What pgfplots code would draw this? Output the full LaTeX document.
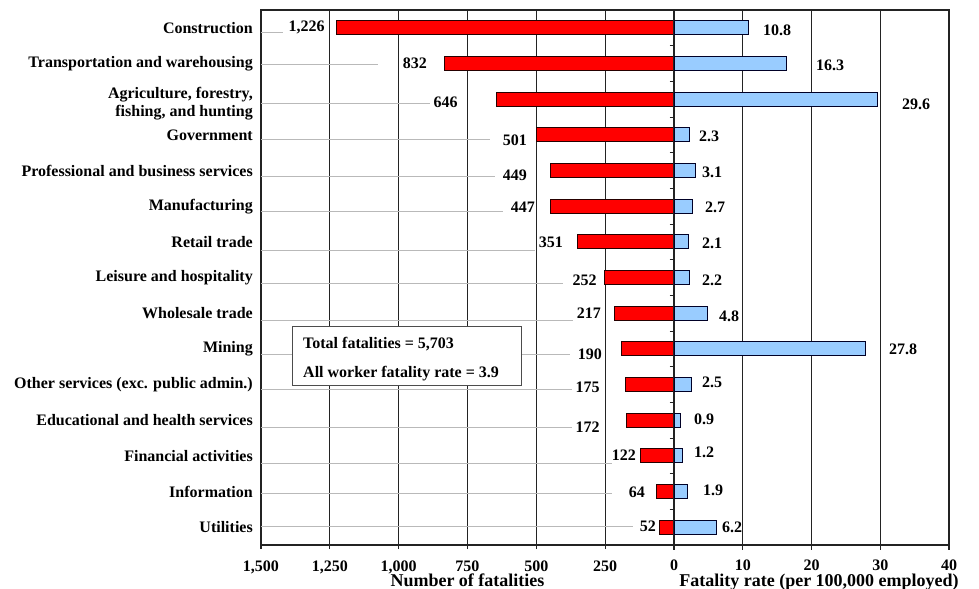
\documentclass[border=0pt]{standalone}
\usepackage{pgfplots}
\pgfplotsset{compat=1.18}
\usepackage{pgfplotstable}
\usepackage{fontspec}
\setmainfont{Liberation Serif}
\definecolor{barred}{RGB}{255,0,0}
\definecolor{barblue}{RGB}{153,204,255}
\definecolor{gridc}{RGB}{35,35,35}
\newcommand\lf{\fontsize{16bp}{15bp}\selectfont\bfseries}
\newcommand\tf{\fontsize{18bp}{19bp}\selectfont\bfseries}

\pgfplotstableread{
idx fat flx fly flab rate rlx rly rlab
0 1226 1268 0.00 1,226 10.8 12.95 0.06 10.8
1 832 897 0.99 832 16.3 20.65 1.04 16.3
2 646 785 2.08 646 29.6 33.16 2.14 29.6
3 501 534 3.14 501 2.3 3.64 3.03 2.3
4 449 534 4.13 449 3.1 4.07 4.04 3.1
5 447 505 5.02 447 2.7 4.5 5.02 2.7
6 351 403 6.00 351 2.1 4.07 6.03 2.1
7 252 280 7.07 252 2.2 4.07 7.07 2.2
8 217 265 8.00 217 4.8 6.55 8.08 4.8
9 190 261 9.14 190 27.8 31.27 9.00 27.8
10 175 269 10.07 175 2.5 4.07 9.93 2.5
11 172 269 11.19 172 0.9 2.91 10.97 0.9
12 122 138 11.98 122 1.2 2.91 11.89 1.2
13 64 105 13.01 64 1.9 4.22 12.98 1.9
14 52 65 13.98 52 6.2 6.98 13.99 6.2
}\data

\begin{document}
\begin{tikzpicture}
\useasboundingbox (0,0) rectangle (979bp,589bp);
% left axis: number of fatalities
\begin{axis}[
  at={(261bp,44bp)}, anchor=south west, scale only axis,
  width=413bp, height=535bp,
  xmin=0, xmax=1500, x dir=reverse,
  ymin=-0.5, ymax=14.5, y dir=reverse,
  xtick={250,500,...,1500}, xtick pos=bottom, tick align=outside,
  major tick length=4bp,
  xtick style={gridc, line width=1.1bp},
  xmajorgrids, grid style={gridc, line width=1.1bp},
  ytick={0,...,14}, ytick style={draw=none},
  yticklabels={Construction, Transportation and warehousing,
    {\raisebox{-17.5bp}[0pt][0pt]{\shortstack[r]{Agriculture, forestry,\\ fishing, and hunting}}}, Government,
    Professional and business services, Manufacturing, Retail trade,
    Leisure and hospitality, Wholesale trade, Mining,
    Other services (exc. public admin.), Educational and health services,
    Financial activities, Information, Utilities},
  yticklabel style={align=right, font=\lf, inner xsep=0pt, xshift=-4bp},
  axis line style={gridc, line width=1.3bp},
  /pgf/number format/1000 sep={,},
  /pgf/number format/assume math mode=true,
  xticklabel style={font=\lf, inner ysep=0pt, yshift=-11.3bp},
  xlabel={Number of fatalities},
  xlabel style={font=\tf, inner sep=0pt, at={(axis description cs:0.5,0)}, anchor=base, yshift=-41bp},
  clip=false,
]
% leader lines
\begin{scope}[gray!55, line width=0.8bp]
\draw (axis cs:1500,0.117) -- (axis cs:1420,0.117);
\draw (axis cs:1500,1.014) -- (axis cs:1075,1.014);
\draw (axis cs:1500,2.107) -- (axis cs:886,2.107);
\draw (axis cs:1500,3.117) -- (axis cs:668,3.117);
\draw (axis cs:1500,4.154) -- (axis cs:650,4.154);
\draw (axis cs:1500,5.135) -- (axis cs:621,5.135);
\draw (axis cs:1500,6.229) -- (axis cs:505,6.229);
\draw (axis cs:1500,7.154) -- (axis cs:403,7.154);
\draw (axis cs:1500,8.191) -- (axis cs:367,8.191);
\draw (axis cs:1500,9.144) -- (axis cs:378,9.144);
\draw (axis cs:1500,10.125) -- (axis cs:370,10.125);
\draw (axis cs:1500,11.19) -- (axis cs:370,11.19);
\draw (axis cs:1500,12.2) -- (axis cs:225,12.2);
\draw (axis cs:1500,13.04) -- (axis cs:225,13.04);
\draw (axis cs:1500,13.98) -- (axis cs:149,13.98);
\end{scope}
\addplot[xbar, bar width=14bp, fill=barred, draw=black!85!red, line width=1bp]
  table[x=fat, y=idx]{\data};
\addplot[only marks, mark=*, mark size=0pt, mark options={draw=none, fill=none},
  nodes near coords, point meta=explicit symbolic,
  nodes near coords style={anchor=east, inner sep=0pt, font=\lf, text=black}]
  table[x=flx, y=fly, meta=flab]{\data};
\end{axis}
% right axis: fatality rate
\begin{axis}[
  at={(674bp,44bp)}, anchor=south west, scale only axis,
  width=275bp, height=535bp,
  xmin=0, xmax=40,
  ymin=-0.5, ymax=14.5, y dir=reverse,
  xtick={0,10,...,40}, xtick pos=bottom, tick align=outside,
  major tick length=4.5bp,
  xtick style={gridc, line width=1.1bp},
  xmajorgrids, grid style={gridc, line width=1.1bp},
  ytick={0.5,1.5,...,13.5}, yticklabels={}, ytick pos=left,
  ytick style={gridc, line width=1bp},
  axis line style={gridc, line width=1.3bp},
  /pgf/number format/assume math mode=true,
  xticklabel style={font=\lf, inner ysep=0pt, yshift=-10.3bp},
  xlabel={Fatality rate (per 100,000 employed)},
  xlabel style={font=\tf, inner sep=0pt, at={(axis description cs:0.5,0)}, anchor=base, yshift=-41bp, xshift=7.5bp},
  clip=false,
]
\addplot[xbar, bar width=14bp, fill=barblue, draw=black!85!blue, line width=1bp]
  table[x=rate, y=idx]{\data};
\addplot[only marks, mark=*, mark size=0pt, mark options={draw=none, fill=none},
  nodes near coords, point meta=explicit symbolic,
  nodes near coords style={anchor=west, inner sep=0pt, font=\lf, text=black}]
  table[x=rlx, y=rly, meta=rlab]{\data};
\end{axis}
% summary box
\draw[gray!60!black, line width=1bp, fill=white] (292bp,262bp) rectangle (521bp,203bp);
\node[anchor=base west, inner sep=0pt, font=\lf] at (303bp,240.5bp) {Total fatalities = 5,703};
\node[anchor=base west, inner sep=0pt, font=\lf] at (303bp,211.5bp) {All worker fatality rate = 3.9};
\end{tikzpicture}
\end{document}
